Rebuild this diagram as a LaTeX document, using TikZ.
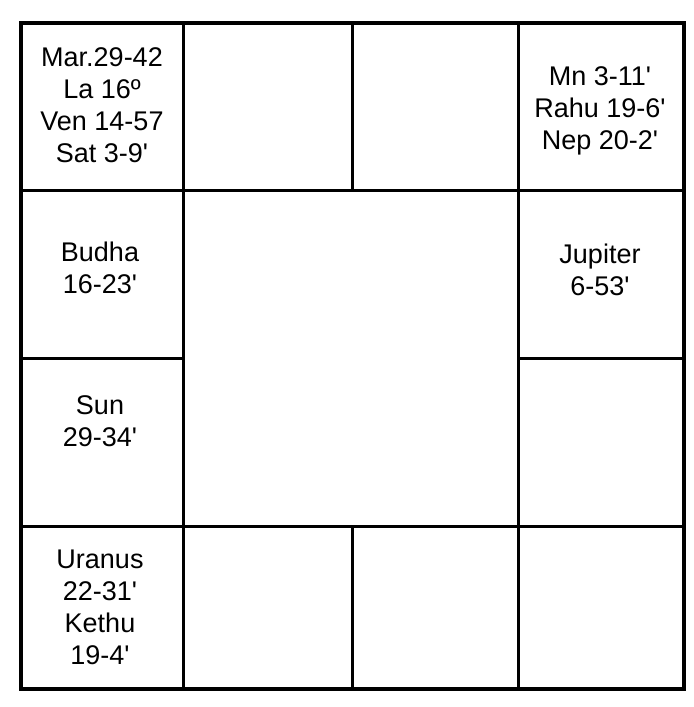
\documentclass[tikz,border=0pt]{standalone}
\usepackage{fontspec}
\setmainfont{Liberation Sans}
\usetikzlibrary{positioning}
\newcommand{\mins}{\textquotesingle}

\begin{document}
\begin{tikzpicture}[
   x=0.5pt, y=-0.5pt,
   frame/.style={line width=2pt},
   grid/.style={line width=1.5pt},
   house/.style={align=center, inner sep=0pt,
                 font=\fontsize{13.5}{16}\selectfont}
]
\useasboundingbox (0,0) rectangle (693,707);
% Outer frame
\draw[frame] (21,23) rectangle (684,689);
% Cell lines
\draw[grid] (183,23) -- (183,689);
\draw[grid] (518,23) -- (518,689);
\draw[grid] (21,190) -- (684,190);
\draw[grid] (21,526) -- (684,526);
\draw[grid] (352,23) -- (352,190);
\draw[grid] (352,526) -- (352,689);
\draw[grid] (21,358) -- (183,358);
\draw[grid] (518,358) -- (684,358);
% Occupied houses
\node[house] (pisces) at (102,105) {Mar.29-42\\La 16º\\Ven 14-57\\Sat 3-9\mins};
\node[house] (gemini) at (600,111) {Mn 3-11\mins\\Rahu 19-6\mins\\Nep 20-2\mins};
\node[house] (aquarius) at (100,268) {Budha\\16-23\mins};
\node[house] (cancer) at (600,270) {Jupiter\\6-53\mins};
\node[house] (capricorn) at (100,421) {Sun\\29-34\mins};
\node[house] (sagittarius) at (100,607) {Uranus\\22-31\mins\\Kethu\\19-4\mins};
\end{tikzpicture}
\end{document}
